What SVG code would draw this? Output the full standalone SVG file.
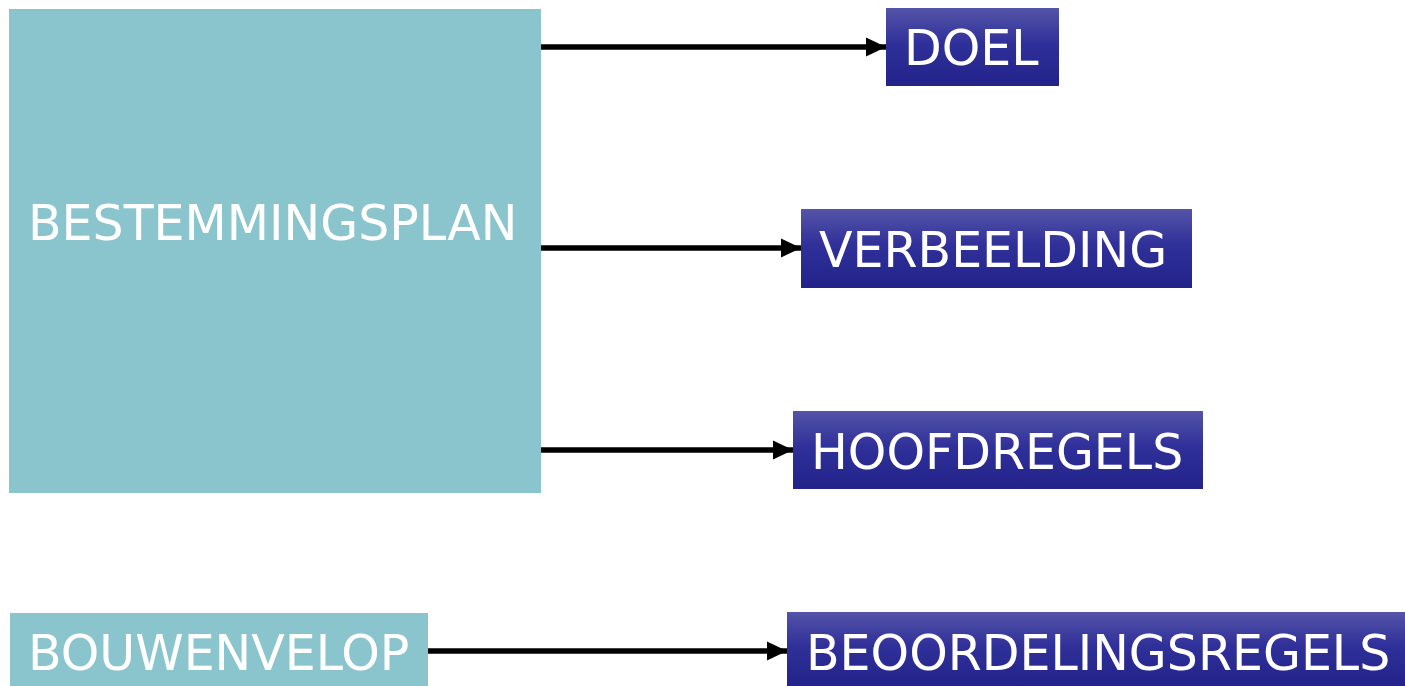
<svg xmlns="http://www.w3.org/2000/svg" width="1405" height="686" viewBox="0 0 1405 686">
<defs>
<linearGradient id="blue" x1="0" y1="0" x2="0" y2="1">
<stop offset="0" stop-color="#5454A8"/>
<stop offset="0.45" stop-color="#30309A"/>
<stop offset="1" stop-color="#22228A"/>
</linearGradient>
<marker id="arr" markerUnits="userSpaceOnUse" markerWidth="20" markerHeight="20" refX="19" refY="9" orient="auto" viewBox="0 0 19 18">
<path d="M0,0 L19,9 L0,18 Z" fill="#000"/>
</marker>
</defs>
<style>
.teal{fill:#8AC5CD}
.blue{fill:url(#blue)}
.t{font-family:"DejaVu Sans","Verdana",sans-serif;font-size:49px;fill:#fff}
.c{stroke:#000;stroke-width:5.5;fill:none;marker-end:url(#arr)}
</style>
<rect width="1405" height="686" fill="#fff"/>
<g id="bestemmingsplan"><rect class="teal" x="9" y="9" width="532" height="484"/><text class="t" x="28" y="240">BESTEMMINGSPLAN</text></g>
<g id="doel"><rect class="blue" x="886" y="8" width="173" height="78"/><text class="t" x="904" y="65">DOEL</text></g>
<g id="verbeelding"><rect class="blue" x="801" y="209" width="391" height="79"/><text class="t" x="819" y="267">VERBEELDING</text></g>
<g id="hoofdregels"><rect class="blue" x="793" y="411" width="410" height="78"/><text class="t" x="811" y="469">HOOFDREGELS</text></g>
<g id="bouwenvelop"><rect class="teal" x="10" y="613" width="418" height="73"/><text class="t" x="28" y="670">BOUWENVELOP</text></g>
<g id="beoordelingsregels"><rect class="blue" x="787" y="612" width="618" height="74"/><text class="t" x="806" y="670">BEOORDELINGSREGELS</text></g>
<g id="connectors">
<line class="c" x1="541" y1="47" x2="886" y2="47"/>
<line class="c" x1="541" y1="248" x2="801" y2="248"/>
<line class="c" x1="541" y1="450" x2="793" y2="450"/>
<line class="c" x1="428" y1="651" x2="787" y2="651"/>
</g>
</svg>
